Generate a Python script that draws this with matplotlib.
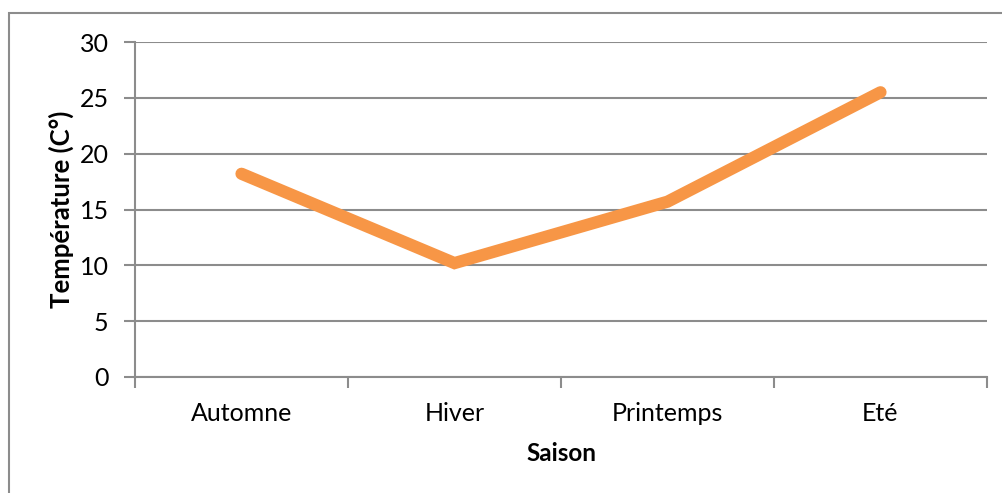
import matplotlib
matplotlib.use("Agg")
import matplotlib.pyplot as plt
from matplotlib.patches import Rectangle

seasons = ["Automne", "Hiver", "Printemps", "Eté"]
temperatures = [18.2, 10.2, 15.7, 25.5]
y_ticks = [0, 5, 10, 15, 20, 25, 30]

W, H = 1003, 493
plt.rcParams["font.family"] = ["Lato", "DejaVu Sans"]

fig = plt.figure(figsize=(W / 100, H / 100), dpi=100)
fig.patch.set_facecolor("white")

# chart-area frame (only left and top edges fall inside the canvas)
fig.add_artist(Rectangle((9.5 / W, -0.1), 1.2, (H - 13) / H + 0.1,
                         transform=fig.transFigure, fill=False,
                         edgecolor="#8c8c8c", linewidth=1.5))

left, right, top, bottom = 135, 987, 42, 377
ax = fig.add_axes([left / W, 1 - bottom / H, (right - left) / W, (bottom - top) / H])

x = list(range(len(seasons)))
ax.plot(x, temperatures, color="#F79646", linewidth=8.8,
        solid_capstyle="round", solid_joinstyle="miter", zorder=3)

ax.set_xlim(-0.5, len(seasons) - 0.5)
ax.set_ylim(0, 30)
ax.set_yticks(y_ticks)
ax.set_xticks(x)
ax.set_xticklabels(seasons)
ax.set_xticks([i - 0.5 for i in range(len(seasons) + 1)], minor=True)

ax.grid(axis="y", color="#8c8c8c", linewidth=1.5, zorder=1)
for s in ["top", "right"]:
    ax.spines[s].set_visible(False)
for s in ["left", "bottom"]:
    ax.spines[s].set_color("#8c8c8c")
    ax.spines[s].set_linewidth(1.5)

ax.tick_params(axis="y", length=8, width=1.5, color="#8c8c8c", labelsize=18,
               pad=11, labelcolor="black")
ax.tick_params(axis="x", which="major", length=0, labelsize=18, pad=18,
               labelcolor="black")
ax.tick_params(axis="x", which="minor", length=8, width=1.5, color="#8c8c8c")

ax.set_xlabel("Saison", fontsize=17.5, fontweight="bold", labelpad=12)
ax.set_ylabel("Température (C°)", fontsize=18.5, fontweight="bold", labelpad=4)

fig.savefig("out.png", dpi=100, facecolor="white")
